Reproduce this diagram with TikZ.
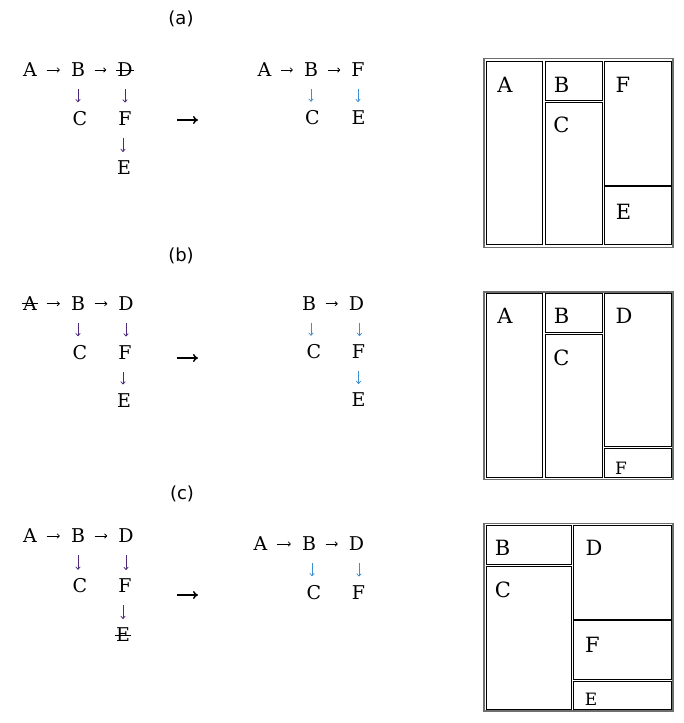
\documentclass[tikz,border=0pt]{standalone}
\usepackage{fontspec}
\setmainfont{DejaVu Serif}
\newfontfamily\captionfont{DejaVu Sans}
\usetikzlibrary{arrows.meta}
\definecolor{oldlink}{HTML}{4B2A7A}
\definecolor{newlink}{HTML}{3D8FD1}
\definecolor{framegray}{HTML}{6E6E6E}
\tikzset{
	letter/.style={inner sep=0pt, font=\fontsize{19}{19}\selectfont},
	struck/.style={letter, append after command={(\tikzlastnode.west) edge[line width=1pt, shorten <=-1pt, shorten >=-1pt] (\tikzlastnode.east)}},
	cellletter/.style={inner sep=0pt, font=\fontsize{21}{21}\selectfont},
	tinyletter/.style={inner sep=0pt, font=\fontsize{17}{17}\selectfont},
	caption/.style={inner sep=0pt, font=\captionfont\fontsize{18}{18}\selectfont},
	link/.style={-{To[length=3pt,width=5pt]}, line width=0.8pt, shorten <=9.5pt, shorten >=11pt},
	drop/.style={link, shorten <=12pt, shorten >=9pt},
	bigarrow/.style={-{To[length=5pt,width=8pt]}, line width=1.5pt},
	frame/.style={draw=framegray, line width=1.6pt, fill=white},
	cell/.style={draw=black, line width=1pt, fill=white}
}

\begin{document}
\begin{tikzpicture}[x=1pt, y=-1pt]
			%%%%% START %%%%%
			\useasboundingbox[fill=white] (0,0) rectangle (684,723);
			
			% (a)
			\node[caption] (a-cap) at (181,19) {(a)};
			
			\node[letter] (aL-A) at (30,70) {A};
			\node[letter] (aL-B) at (78,70) {B};
			\node[struck] (aL-D) at (125,70) {D};
			\node[letter] (aL-C) at (80,118.5) {C};
			\node[letter] (aL-F) at (125,118.5) {F};
			\node[letter] (aL-E) at (124,168) {E};
			\draw[link] (aL-A) -- (aL-B);
			\draw[link] (aL-B) -- (aL-D);
			\draw[drop, oldlink] (aL-B.south) -- (aL-B.south |- aL-C.north);
			\draw[drop, oldlink] (aL-D.south) -- (aL-D.south |- aL-F.north);
			\draw[drop, oldlink] ([xshift=-2pt]aL-F.south) -- ([xshift=-2pt]aL-F.south |- aL-E.north);
			
			\coordinate (a-from) at (177,120);
			\coordinate (a-to) at (198,120);
			\draw[bigarrow] (a-from) -- (a-to);
			
			\node[letter] (aR-A) at (264.5,70) {A};
			\node[letter] (aR-B) at (311,70) {B};
			\node[letter] (aR-F) at (358,70) {F};
			\node[letter] (aR-C) at (312.5,118) {C};
			\node[letter] (aR-E) at (358.5,118) {E};
			\draw[link] (aR-A) -- (aR-B);
			\draw[link] (aR-B) -- (aR-F);
			\draw[drop, newlink] (aR-B.south) -- (aR-B.south |- aR-C.north);
			\draw[drop, newlink] (aR-F.south) -- (aR-F.south |- aR-E.north);
			
			\draw[frame] (484,58.3) rectangle (672.7,247.3);
			\draw[cell] (486.7,61) rectangle (542.7,244.3);
			\draw[cell] (545,61) rectangle (602.3,100);
			\draw[cell] (545,102.7) rectangle (602.3,244.3);
			\draw[cell] (604,61) rectangle (671,185);
			\draw[cell] (604,186.7) rectangle (671,244.3);
			\node[cellletter] (aBox-A) at (505,84.7) {A};
			\node[cellletter] (aBox-B) at (561.5,84.7) {B};
			\node[cellletter] (aBox-F) at (623,84.7) {F};
			\node[cellletter] (aBox-C) at (561.5,125) {C};
			\node[cellletter] (aBox-E) at (623.5,211.5) {E};
			
			% (b)
			\node[caption] (b-cap) at (181,256) {(b)};
			
			\node[struck] (bL-A) at (30,303.7) {A};
			\node[letter] (bL-B) at (78,303.7) {B};
			\node[letter] (bL-D) at (126,303.7) {D};
			\node[letter] (bL-C) at (80,352.5) {C};
			\node[letter] (bL-F) at (125,352.5) {F};
			\node[letter] (bL-E) at (124,400.5) {E};
			\draw[link] (bL-A) -- (bL-B);
			\draw[link] (bL-B) -- (bL-D);
			\draw[drop, oldlink] (bL-B.south) -- (bL-B.south |- bL-C.north);
			\draw[drop, oldlink] (bL-D.south) -- (bL-D.south |- bL-F.north);
			\draw[drop, oldlink] ([xshift=-2pt]bL-F.south) -- ([xshift=-2pt]bL-F.south |- bL-E.north);
			
			\coordinate (b-from) at (177,358);
			\coordinate (b-to) at (198,358);
			\draw[bigarrow] (b-from) -- (b-to);
			
			\node[letter] (bR-B) at (309,303.7) {B};
			\node[letter] (bR-D) at (356.5,303.7) {D};
			\node[letter] (bR-C) at (314,352) {C};
			\node[letter] (bR-F) at (358.5,352) {F};
			\node[letter] (bR-E) at (358.5,400) {E};
			\draw[link] (bR-B) -- (bR-D);
			\draw[drop, newlink] ([xshift=2pt]bR-B.south) -- ([xshift=2pt]bR-B.south |- bR-C.north);
			\draw[drop, newlink] ([xshift=3pt]bR-D.south) -- ([xshift=3pt]bR-D.south |- bR-F.north);
			\draw[drop, newlink] (bR-F.south) -- (bR-F.south |- bR-E.north);
			
			\draw[frame] (484,291.7) rectangle (672.7,479.3);
			\draw[cell] (486.7,293.3) rectangle (542.7,477.3);
			\draw[cell] (545,293.3) rectangle (602.3,332.3);
			\draw[cell] (545,334.3) rectangle (602.3,477.3);
			\draw[cell] (604,293.3) rectangle (671,446.7);
			\draw[cell] (604,448.3) rectangle (671,477.3);
			\node[cellletter] (bBox-A) at (505,316) {A};
			\node[cellletter] (bBox-B) at (561.5,316) {B};
			\node[cellletter] (bBox-D) at (624,316) {D};
			\node[cellletter] (bBox-C) at (561.5,358) {C};
			\node[tinyletter] (bBox-F) at (621,468.3) {F};
			
			% (c)
			\node[caption] (c-cap) at (182,493.5) {(c)};
			
			\node[letter] (cL-A) at (30,536) {A};
			\node[letter] (cL-B) at (78,536) {B};
			\node[letter] (cL-D) at (126,536) {D};
			\node[letter] (cL-C) at (80,586) {C};
			\node[letter] (cL-F) at (125,586) {F};
			\node[struck] (cL-E) at (123,635) {E};
			\draw[link] (cL-A) -- (cL-B);
			\draw[link] (cL-B) -- (cL-D);
			\draw[drop, oldlink] (cL-B.south) -- (cL-B.south |- cL-C.north);
			\draw[drop, oldlink] (cL-D.south) -- (cL-D.south |- cL-F.north);
			\draw[drop, oldlink] ([xshift=-2pt]cL-F.south) -- ([xshift=-2pt]cL-F.south |- cL-E.north);
			
			\coordinate (c-from) at (177,595);
			\coordinate (c-to) at (198,595);
			\draw[bigarrow] (c-from) -- (c-to);
			
			\node[letter] (cR-A) at (260.5,544) {A};
			\node[letter] (cR-B) at (309,544) {B};
			\node[letter] (cR-D) at (356.5,544) {D};
			\node[letter] (cR-C) at (314,592.5) {C};
			\node[letter] (cR-F) at (358.5,592.5) {F};
			\draw[link] (cR-A) -- (cR-B);
			\draw[link] (cR-B) -- (cR-D);
			\draw[drop, newlink] ([xshift=3pt]cR-B.south) -- ([xshift=3pt]cR-B.south |- cR-C.north);
			\draw[drop, newlink] ([xshift=2.5pt]cR-D.south) -- ([xshift=2.5pt]cR-D.south |- cR-F.north);
			
			\draw[frame] (484,523.3) rectangle (672.7,711);
			\draw[cell] (486,525) rectangle (571,564.3);
			\draw[cell] (486,566) rectangle (571,709.3);
			\draw[cell] (573.3,525) rectangle (671,619);
			\draw[cell] (573.3,620.7) rectangle (671,679.3);
			\draw[cell] (573.3,681) rectangle (671,709.3);
			\node[cellletter] (cBox-B) at (502.5,548) {B};
			\node[cellletter] (cBox-D) at (594,548) {D};
			\node[cellletter] (cBox-C) at (503,589.5) {C};
			\node[cellletter] (cBox-F) at (592.5,645) {F};
			\node[tinyletter] (cBox-E) at (591,699.5) {E};
			
			%%%%% END %%%%%
\end{tikzpicture}
\end{document}
